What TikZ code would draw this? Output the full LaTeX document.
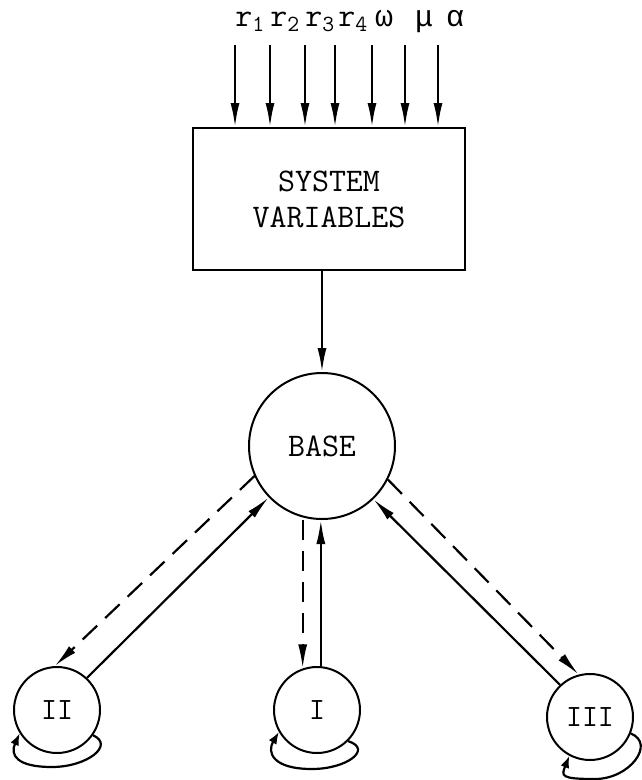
\documentclass[tikz,border=0pt]{standalone}
\usepackage{fontspec}
\newfontfamily\grkfont{Liberation Mono}
\usetikzlibrary{arrows.meta,calc}
\begin{document}
\begin{tikzpicture}[x=1pt,y=1pt,
  every node/.style={font=\ttfamily\fontsize{33}{36}\selectfont},
  ln/.style={line width=2.2pt},
  arr/.style={ln,-{Latex[length=24pt,width=9pt]}},
  looparr/.style={ln,-{Latex[length=12pt,width=9pt]}},
  dsh/.style={dash pattern=on 20pt off 11pt},
  bigc/.style={draw,circle,line width=2pt,inner sep=0pt,minimum size=146pt},
  smallc/.style={draw,circle,line width=2pt,inner sep=0pt,minimum size=86pt,font=\ttfamily\fontsize{31}{34}\selectfont},
  lab/.style={inner sep=0pt,anchor=base},
  grk/.style={lab,font=\grkfont\fontsize{30}{34}\selectfont}]
\useasboundingbox (0,0) rectangle (641,-780);
% labels
\node[lab] (l1) at (250,-26) {r\textsubscript{1}};
\node[lab] (l2) at (285,-26) {r\textsubscript{2}};
\node[lab] (l3) at (320,-26) {r\textsubscript{3}};
\node[lab] (l4) at (353,-26) {r\textsubscript{4}};
\node[grk] (l5) at (384,-26) {ω};
\node[grk] (l6) at (424,-26) {μ};
\node[grk] (l7) at (455,-26) {α};
% box
\node[draw,line width=2pt,minimum width=272pt,minimum height=142pt,align=center] (sv) at (329,-199) {SYSTEM\\VARIABLES};
\foreach \i/\x in {1/235,2/270,3/305,4/335,5/372,6/405,7/438}{
  \coordinate (t\i) at (\x,-45);
  \draw[arr] (t\i) -- (t\i |- sv.north);
}
% base
\node[bigc] (base) at (322,-446) {BASE};
\draw[arr] (base.north |- sv.south) -- (base.north);
% small circles
\node[smallc] (II) at (57,-710) {II};
\node[smallc] (I) at (317,-710) {I};
\node[smallc] (III) at (590,-717) {III};
% connectors
\draw[arr,dsh] (base.204) -- (II.93);
\draw[arr] (II.47) -- (base.224);
\draw[arr,dsh] (I.109 |- base.south) -- (I.109);
\draw[arr] (I.85) -- (I.85 |- base.south);
\draw[arr,dsh] (base.333) -- (III.105);
\draw[arr] (III.133) -- (base.314);
% self loops
\draw[looparr] (II.-35) .. controls +(22,-10) and +(35,0) .. ($(II.south)+(-5,-13)$) .. controls +(-35,0) and +(-10,-22) .. (II.-148);
\draw[looparr] (I.-45) .. controls +(25,-8) and +(35,0) .. ($(I.south)+(-5,-15)$) .. controls +(-40,0) and +(-12,-20) .. (I.-150);
\draw[looparr] (III.-22) .. controls +(25,-10) and +(35,0) .. ($(III.south)+(5,-18)$) .. controls +(-35,0) and +(-8,-20) .. (III.-118);
\end{tikzpicture}
\end{document}
